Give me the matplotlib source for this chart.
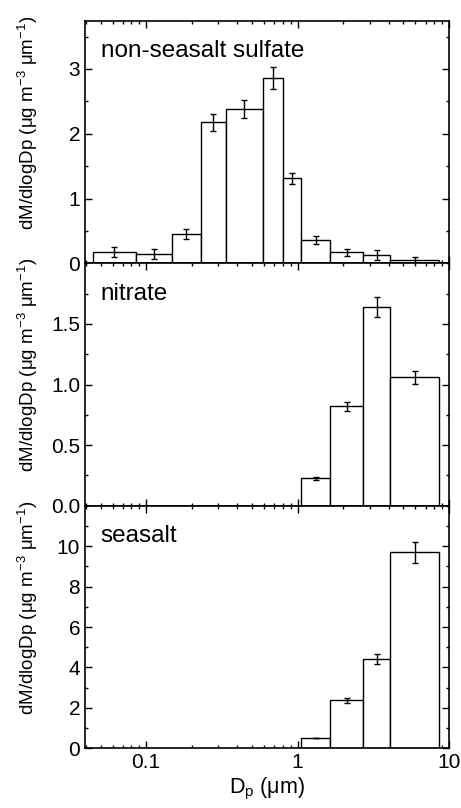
import matplotlib
matplotlib.use('Agg')
import matplotlib.pyplot as plt
from matplotlib.ticker import MultipleLocator, LogLocator, NullFormatter
import numpy as np

plt.rcParams['font.family'] = ['Liberation Sans', 'DejaVu Sans']
plt.rcParams['mathtext.fontset'] = 'custom'
plt.rcParams['mathtext.rm'] = 'Liberation Sans'
plt.rcParams['mathtext.it'] = 'Liberation Sans'

# bin edges of the impactor stages (um)
edges = [0.0445, 0.0855, 0.149, 0.229, 0.338, 0.587, 0.796,
         1.06, 1.65, 2.69, 4.10, 8.55]

sulfate = [0.17, 0.14, 0.45, 2.18, 2.38, 2.86, 1.31, 0.36, 0.17, 0.13, 0.05]
sulfate_err = [0.08, 0.08, 0.08, 0.13, 0.14, 0.17, 0.085, 0.057, 0.055, 0.08, 0.05]

nitrate = [0.226, 0.82, 1.64, 1.06]
nitrate_err = [0.01, 0.04, 0.08, 0.054]

seasalt = [0.51, 2.38, 4.42, 9.69]
seasalt_err = [0.02, 0.13, 0.23, 0.5]

panels = [
    ('non-seasalt sulfate', sulfate, sulfate_err, edges, (0, 3.74), 1, 0.5, '%d'),
    ('nitrate', nitrate, nitrate_err, edges[7:], (0, 2.0), 0.5, 0.25, '%.1f'),
    ('seasalt', seasalt, seasalt_err, edges[7:], (0, 12), 2, 1, '%d'),
]

fig = plt.figure(figsize=(4.61, 8.08), dpi=100)
bottoms = [0.6741, 0.374, 0.0739]
tops = [0.974, 0.6741, 0.374]
left, right = 0.1844, 0.974

for i, (name, vals, errs, ed, ylim, major, minor, fmt) in enumerate(panels):
    ax = fig.add_axes([left, bottoms[i], right - left, tops[i] - bottoms[i]])
    ed = np.array(ed)
    lo, hi = ed[:-1], ed[1:]
    ax.bar(lo, vals, width=hi - lo, align='edge', color='white',
           edgecolor='black', linewidth=1.0, zorder=2)
    mid = np.sqrt(lo * hi)
    ax.errorbar(mid, vals, yerr=errs, fmt='none', ecolor='black',
                elinewidth=1.0, capsize=2.5, capthick=1.0, zorder=3)
    ax.set_xscale('log')
    ax.set_xlim(0.0395, 10)
    ax.set_ylim(*ylim)
    yt = np.arange(0, ylim[1] - 1e-6, major)
    ax.set_yticks(yt)
    ax.set_yticklabels([fmt % v for v in yt])
    ax.yaxis.set_minor_locator(MultipleLocator(minor))
    ax.xaxis.set_major_locator(LogLocator(base=10, numticks=10))
    ax.xaxis.set_minor_locator(LogLocator(base=10, subs=np.arange(2, 10), numticks=10))
    ax.xaxis.set_minor_formatter(NullFormatter())
    ax.tick_params(which='both', direction='in', top=True, right=True,
                   labelsize=15)
    ax.tick_params(which='major', length=5, width=1)
    ax.tick_params(which='minor', length=2.5, width=1)
    for s in ax.spines.values():
        s.set_linewidth(1.2)
    if i < 2:
        ax.tick_params(labelbottom=False)
    else:
        ax.set_xticks([0.1, 1, 10])
        ax.set_xticklabels(['0.1', '1', '10'])
        ax.set_xlabel(r'D$_\mathregular{p}$ ($\mathregular{\mu}$m)', fontsize=15.5, labelpad=3)
    ax.text(0.043, 0.92, name, transform=ax.transAxes, fontsize=17.5,
            ha='left', va='top')
    ax.set_ylabel(r'dM/dlogDp ($\mathregular{\mu}$g m$^{\mathregular{-3}}$ $\mathregular{\mu}$m$^{\mathregular{-1}}$)',
                  fontsize=13.5)
    ax.yaxis.set_label_coords(-0.125, 0.58)

fig.savefig('out.png', dpi=100)
